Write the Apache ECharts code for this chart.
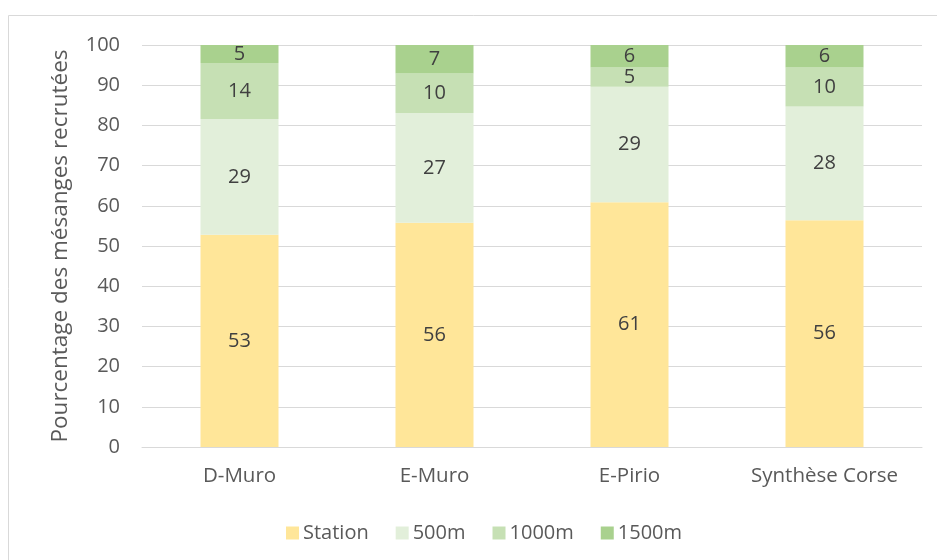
<!DOCTYPE html>
<html>
<head>
<meta charset="utf-8">
<script src="https://cdn.jsdelivr.net/npm/echarts@6/dist/echarts.min.js"></script>
<style>
html,body{margin:0;padding:0;background:#fff;}
#c{width:937px;height:560px;}
</style>
</head>
<body>
<div id="c"></div>
<script>
const categories = ['D-Muro', 'E-Muro', 'E-Pirio', 'Synthèse Corse'];
const seriesNames = ['Station', '500m', '1000m', '1500m'];
const station = [52.8, 55.8, 60.9, 56.4];
const m500 = [28.8, 27.3, 28.7, 28.3];
const m1000 = [13.9, 9.8, 4.8, 9.7];
const m1500 = [4.5, 7.1, 5.6, 5.6];
const yTicks = [0, 10, 20, 30, 40, 50, 60, 70, 80, 90, 100];
const colors = ['#FFE699', '#E2EFDA', '#C6E0B4', '#A9D18E'];

const FONT = '"Open Sans", sans-serif';
const values = [station, m500, m1000, m1500];

const chart = echarts.init(document.getElementById('c'), null, {renderer: 'canvas'});
chart.setOption({
  animation: false,
  graphic: [{
    type: 'rect',
    shape: {x: 8.5, y: 15.5, width: 940, height: 560},
    style: {fill: 'none', stroke: '#D9D9D9', lineWidth: 1},
    silent: true
  }],
  grid: {left: 142, right: 15, top: 45, bottom: 113},
  legend: {
    data: seriesNames,
    left: 281,
    top: 518,
    itemWidth: 13,
    itemHeight: 13,
    itemGap: 27,
    icon: 'rect',
    textStyle: {fontFamily: FONT, fontSize: 20, color: '#595959', padding: [0, 0, 0, -1]}
  },
  xAxis: {
    type: 'category',
    data: categories,
    axisLine: {lineStyle: {color: '#D9D9D9', width: 1}},
    axisTick: {show: false},
    axisLabel: {interval: 0, fontFamily: FONT, fontSize: 20.5, color: '#595959', margin: 19}
  },
  yAxis: {
    type: 'value',
    min: yTicks[0],
    max: yTicks[yTicks.length - 1],
    interval: 10,
    name: 'Pourcentage des mésanges recrutées',
    nameLocation: 'middle',
    nameGap: 70,
    nameTextStyle: {fontFamily: FONT, fontSize: 22.5, color: '#595959'},
    axisLine: {show: false},
    axisTick: {show: false},
    axisLabel: {fontFamily: FONT, fontSize: 20, color: '#595959', margin: 22},
    splitLine: {lineStyle: {color: '#D9D9D9', width: 1}}
  },
  series: seriesNames.map((n, i) => ({
    name: n,
    type: 'bar',
    stack: 'total',
    barWidth: '40%',
    data: values[i],
    itemStyle: {color: colors[i]},
    label: {
      show: true,
      position: 'inside',
      fontFamily: FONT,
      fontSize: 20,
      color: '#404040',
      formatter: p => Math.round(p.value)
    }
  }))
});
</script>
</body>
</html>
